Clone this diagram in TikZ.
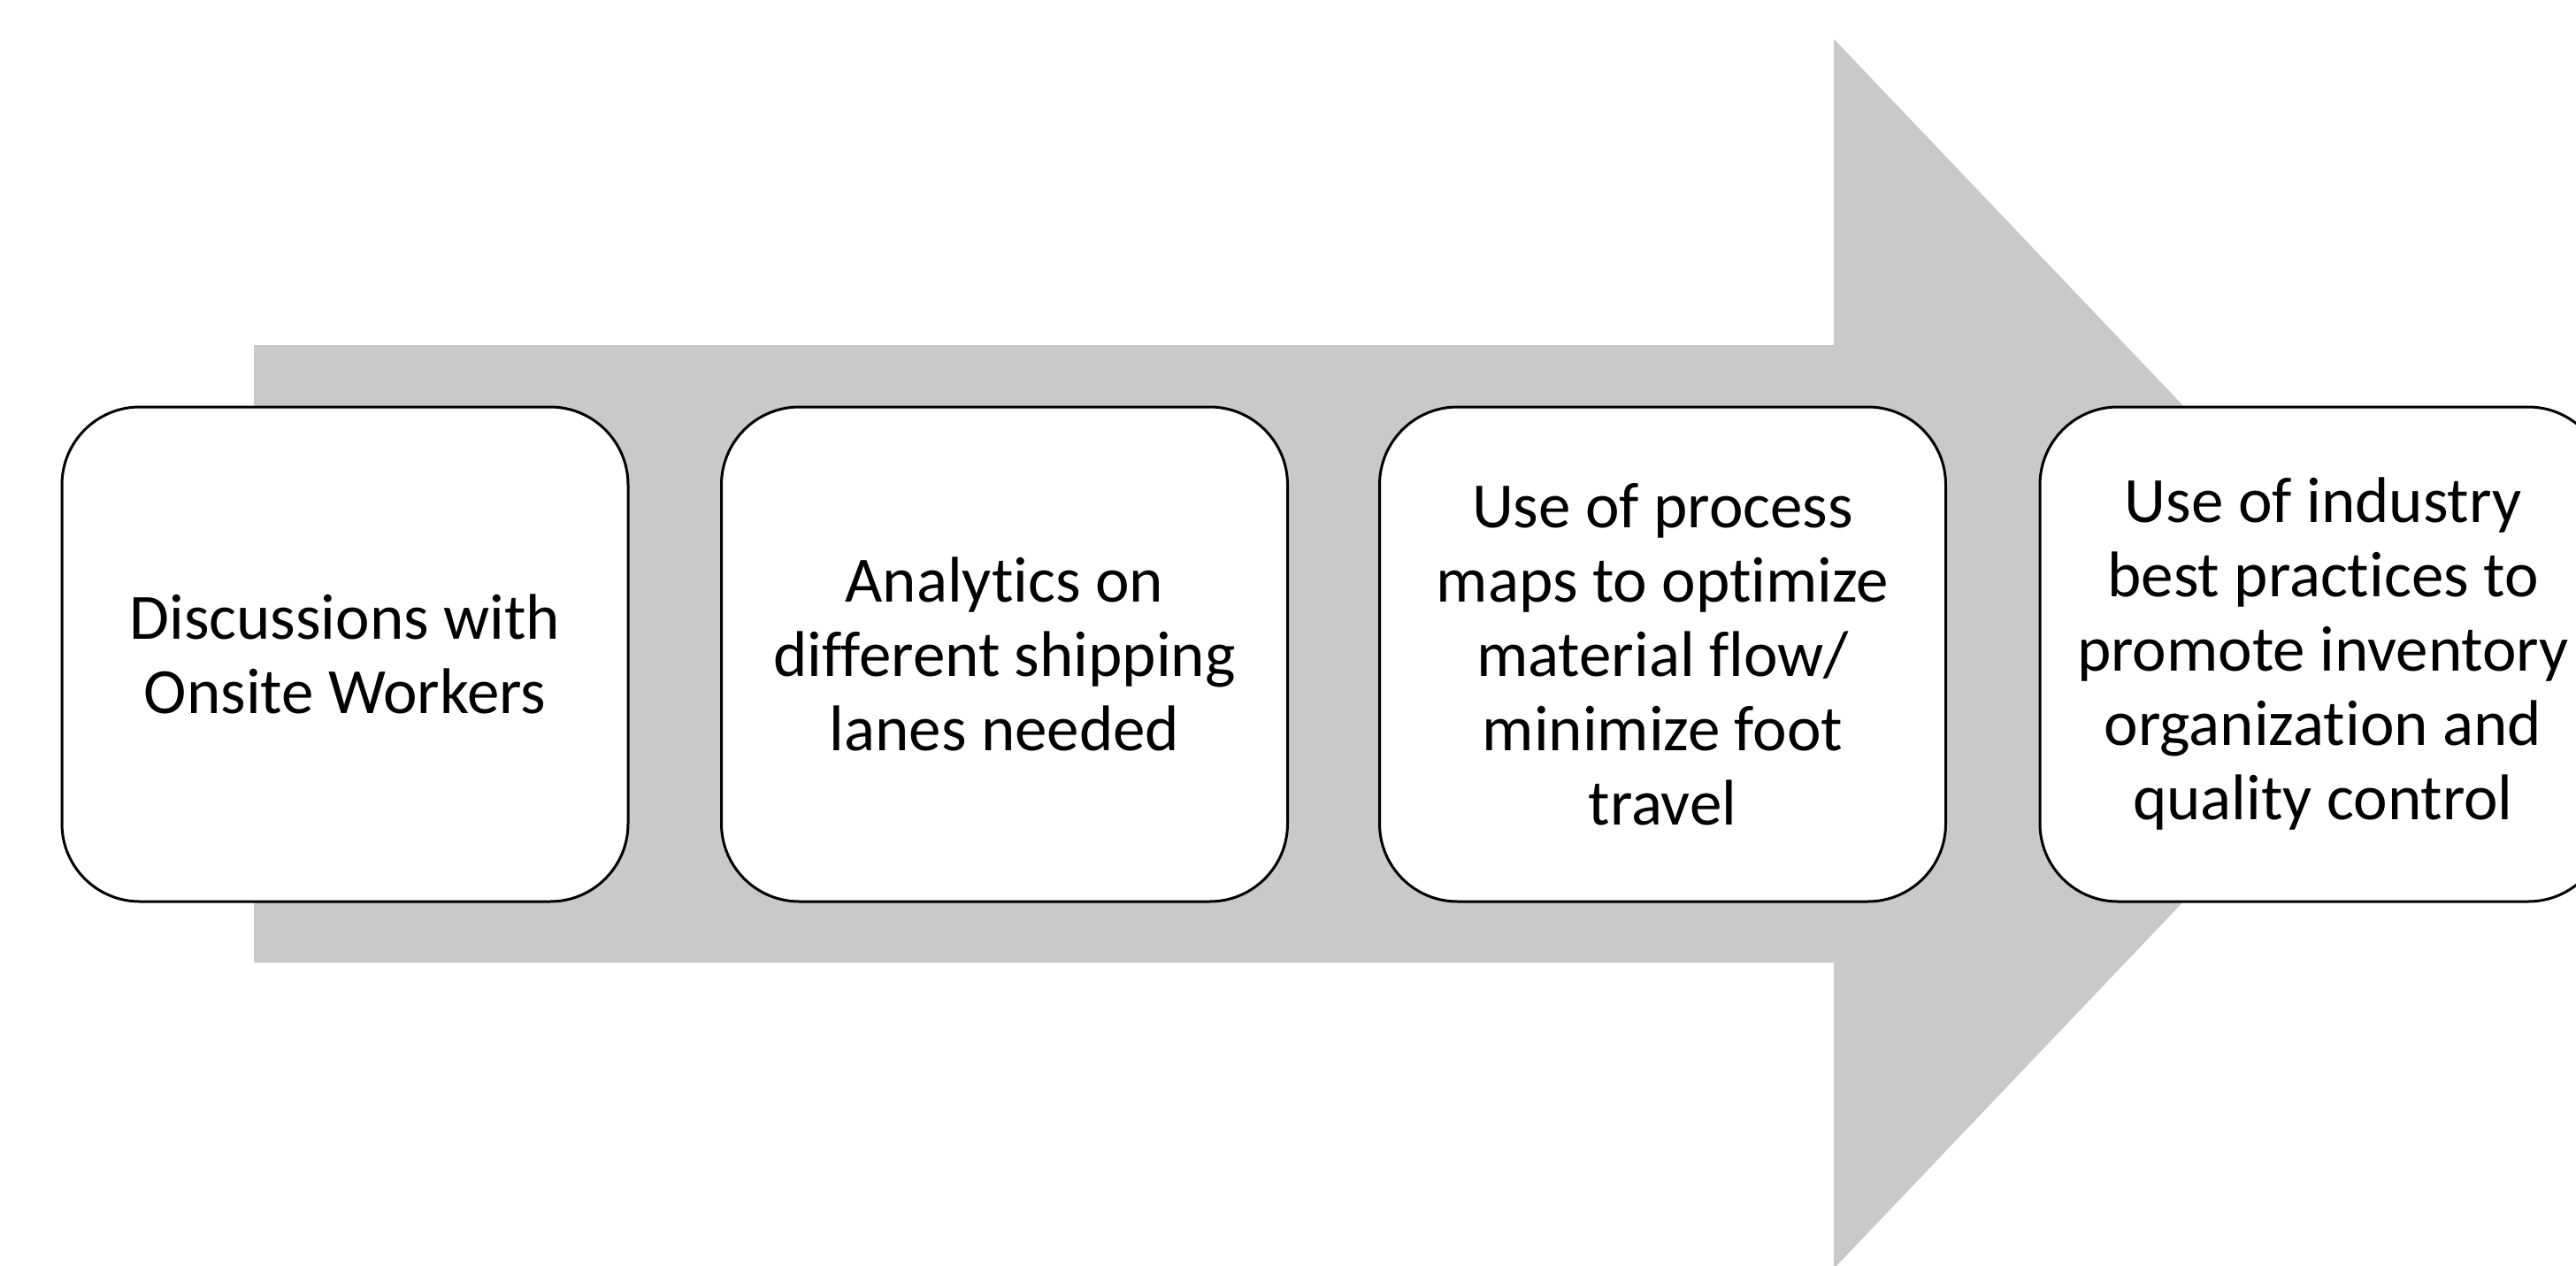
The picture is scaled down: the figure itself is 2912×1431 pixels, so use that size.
\documentclass[tikz,border=0pt]{standalone}
\usepackage{fontspec}
\setmainfont[Ligatures={NoCommon,NoRequired,NoContextual},RawFeature={-liga;-dlig;-calt}]{Carlito}
\newcommand\nolig{\kern0pt{}}
\definecolor{arrowgray}{RGB}{201,201,201}
\begin{document}
\begin{tikzpicture}[x=1pt,y=-1pt]
\tikzset{stepbox/.style={draw=black, line width=3pt, fill=white, rounded corners=88pt,
  minimum width=640pt, minimum height=559pt, align=center,
  font=\fontsize{73}{84}\selectfont, inner sep=0pt}}
\useasboundingbox (0,0) rectangle (2912,1431);
\fill[arrowgray] (287,390) -- (2073,390) -- (2073,44) -- (2735,739) -- (2073,1434) -- (2073,1088) -- (287,1088) -- cycle;
\node[stepbox] (b1) at (390,739.5) {Discussions with\\Onsite Workers};
\node[stepbox] (b2) at (1135.5,739.5) {Analyt\nolig ics on\\different shipping\\lanes needed};
\node[stepbox] (b3) at (1879.5,739.5) {Use of process\\maps to opt\nolig imize\\material flow/\\minimize foot\\travel};
\node[stepbox] (b4) at (2626,739.5) {Use of industry\\best practices to\\promote inventory\\organizat\nolig ion and\\quality control};
\end{tikzpicture}
\end{document}
